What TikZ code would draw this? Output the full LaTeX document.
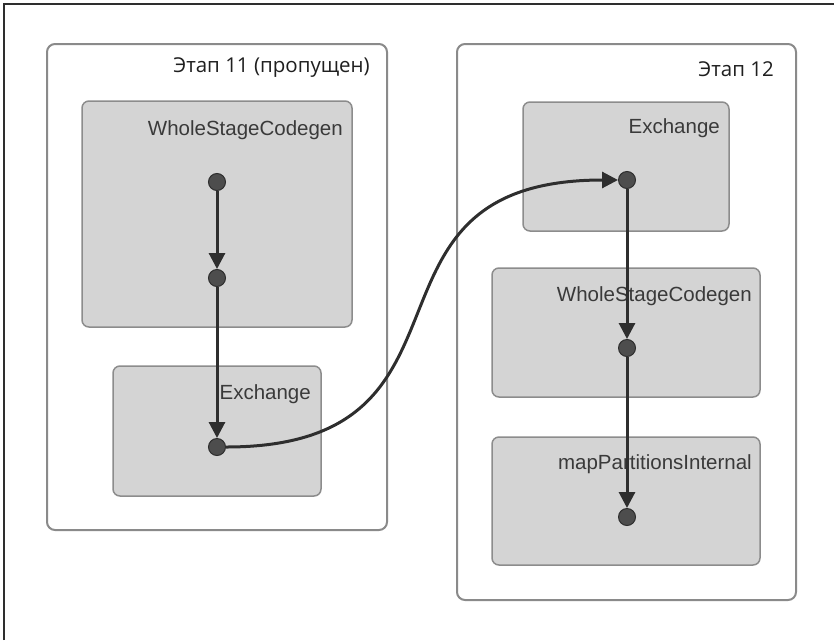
\documentclass[tikz,border=0pt]{standalone}
\usepackage{fontspec}
\setmainfont{Liberation Sans}
\newfontfamily\stagefont{Open Sans}
\usetikzlibrary{arrows.meta}
\definecolor{boxfill}{HTML}{D4D4D4}
\definecolor{boxline}{HTML}{8C8C8C}
\definecolor{stageline}{HTML}{8A8A8A}
\definecolor{dotfill}{HTML}{4D4D4D}
\definecolor{edgecol}{HTML}{2E2E2E}
\definecolor{labelcol}{HTML}{3A3A3A}
\tikzset{
  stagebox/.style={draw=stageline, line width=2pt, rounded corners=8pt},
  opbox/.style={draw=boxline, fill=boxfill, line width=1.5pt, rounded corners=7pt},
  stagelabel/.style={anchor=base east, inner sep=0pt, font=\stagefont\fontsize{20.5}{24}\selectfont, text=black!88},
  oplabel/.style={anchor=base east, inner sep=0pt, font=\fontsize{20.5}{24}\selectfont, text=labelcol},
  opdot/.style={circle, draw=edgecol, fill=dotfill, line width=1pt, minimum size=17pt, inner sep=0pt},
  flow/.style={draw=edgecol, line width=3pt, -{Triangle[length=16pt,width=16pt]}},
}
\begin{document}
\begin{tikzpicture}[x=1pt,y=-1pt]
\useasboundingbox (0,0) rectangle (834,640);
% outer frame (top and left)
\coordinate (fbl) at (4,640);
\coordinate (ftl) at (4,4);
\coordinate (ftr) at (834,4);
\draw[edgecol, line width=2.5pt] (fbl) -- (ftl) -- (ftr);
% stages
\draw[stagebox] (47,44) rectangle (387,530);
\draw[stagebox] (457,44) rectangle (796,600);
\node[stagelabel] (s11) at (370,72) {Этап 11 (пропущен)};
\node[stagelabel] (s12) at (774,76) {Этап 12};
% operator boxes
\draw[opbox] (82,101) rectangle (352,327);
\draw[opbox] (113,366) rectangle (321,496);
\draw[opbox] (523,102) rectangle (729,231);
\draw[opbox] (492,268) rectangle (760,397);
\draw[opbox] (492,437) rectangle (760,565);
\node[oplabel] (l1) at (343,135) {WholeStageCodegen};
\node[oplabel] (l2) at (311,399) {Exchange};
\node[oplabel] (l3) at (720,133) {Exchange};
\node[oplabel] (l4) at (752,301) {WholeStageCodegen};
\node[oplabel] (l5) at (752,469) {mapPartitionsInternal};
% dots
\node[opdot] (d1) at (217,182) {};
\node[opdot] (d2) at (217,278) {};
\node[opdot] (d3) at (217,447) {};
\node[opdot] (d4) at (627,180) {};
\node[opdot] (d5) at (627,348) {};
\node[opdot] (d6) at (627,517) {};
% edges
\draw[flow] (d1) -- (d2);
\draw[flow] (d2) -- (d3);
\draw[flow] (d3.east) .. controls (500,447) and (337,180) .. (d4.west);
\draw[flow] (d4) -- (d5);
\draw[flow] (d5) -- (d6);
\end{tikzpicture}
\end{document}
